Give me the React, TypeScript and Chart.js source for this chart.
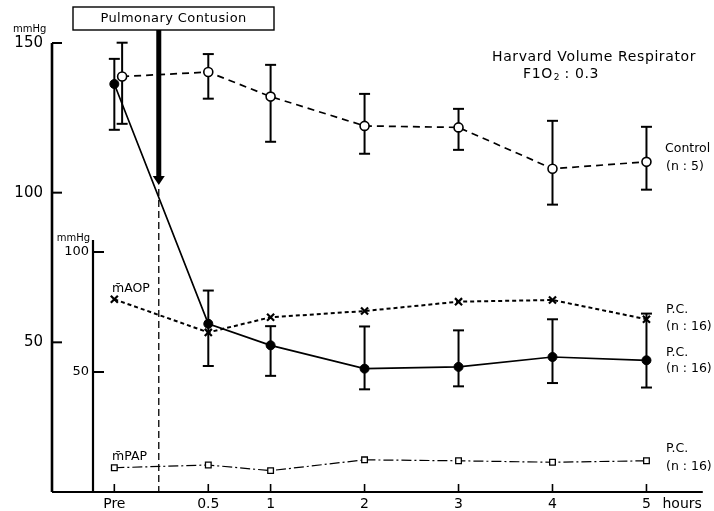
import React, { useEffect, useRef } from 'react';
import { Chart, registerables } from 'chart.js';

Chart.register(...registerables);

// ---- data ----
const timeLabels = ['Pre', '0.5', '1', '2', '3', '4', '5'];
const timeValues = [-0.663, 0.337, 1, 2, 3, 4, 5];
const controlTimes = [-0.58, 0.337, 1, 2, 3, 4, 5];
const contusionTime = -0.19;

const controlMean = [138.8, 140.3, 132.1, 122.3, 121.8, 108, 110.3];
const controlHigh = [150.1, 146.3, 142.7, 133, 128, 124, 122];
const controlLow = [123, 131.4, 117, 113, 114.3, 96, 101];

const pcMean = [136.3, 56.2, 49, 41.2, 41.8, 45.1, 44];
const pcHigh = [144.7, 67.3, 55.4, 55.3, 54, 57.7, 59.6];
const pcLow = [121, 42.1, 38.8, 34.3, 35.3, 36.4, 34.9];

const mAOP = [80.3, 66.5, 72.8, 75.4, 79.3, 80, 72];
const mPAP = [10.1, 11.25, 8.9, 13.4, 13, 12.4, 13];

const outerTicks = [150, 100, 50];
const innerTicks = [100, 50];
const innerAxisTop = 105;

const FONT = '"DejaVu Sans", "Liberation Sans", sans-serif';

function pts(xs: number[], ys: number[]) {
  return ys.map((y, i) => ({ x: xs[i], y }));
}

export default function App() {
  const ref = useRef<HTMLCanvasElement>(null);

  useEffect(() => {
    document.body.style.margin = '0';
    const canvas = ref.current!;

    const errorSets = [
      { ds: 0, high: controlHigh, low: controlLow },
      { ds: 1, high: pcHigh, low: pcLow },
    ];

    const figurePlugin = {
      id: 'figurePlugin',
      beforeDatasetsDraw(chart: any) {
        const c: CanvasRenderingContext2D = chart.ctx;
        const xs = chart.scales.x;
        const yo = chart.scales.yOuter;
        const yi = chart.scales.yInner;
        const area = chart.chartArea;
        const y0 = yo.getPixelForValue(0);
        const seg = (x1: number, y1: number, x2: number, y2: number) => {
          c.beginPath();
          c.moveTo(x1, y1);
          c.lineTo(x2, y2);
          c.stroke();
        };
        c.save();
        c.strokeStyle = '#000';
        c.fillStyle = '#000';
        c.setLineDash([]);

        // x axis
        c.lineWidth = 2.2;
        seg(area.left, y0, area.right - 4, y0);
        c.lineWidth = 1.6;
        timeValues.forEach((t) => {
          const px = xs.getPixelForValue(t);
          seg(px, y0, px, y0 - 8);
        });
        c.font = `14px ${FONT}`;
        c.textAlign = 'center';
        c.textBaseline = 'middle';
        timeLabels.forEach((lab, i) => {
          c.fillText(lab, xs.getPixelForValue(timeValues[i]), y0 + 12);
        });
        c.textAlign = 'left';
        c.fillText('hours', xs.getPixelForValue(5) + 16, y0 + 12);

        // outer y axis
        const ox = area.left;
        c.lineWidth = 2.6;
        seg(ox, yo.getPixelForValue(150), ox, y0);
        c.lineWidth = 2;
        c.font = `15px ${FONT}`;
        c.textAlign = 'right';
        outerTicks.forEach((v) => {
          const py = yo.getPixelForValue(v);
          seg(ox, py, ox + 10, py);
          c.fillText(String(v), ox - 9, py);
        });
        c.font = `10px ${FONT}`;
        c.textAlign = 'left';
        c.fillText('mmHg', ox - 39, yo.getPixelForValue(150) - 14);

        // inner y axis
        const ix = area.left + 41;
        c.lineWidth = 2.2;
        seg(ix, yi.getPixelForValue(innerAxisTop), ix, y0);
        c.lineWidth = 2;
        c.font = `13px ${FONT}`;
        c.textAlign = 'right';
        innerTicks.forEach((v) => {
          const py = yi.getPixelForValue(v);
          seg(ix, py, ix + 11, py);
          c.fillText(String(v), ix - 4, py);
        });
        c.font = `10px ${FONT}`;
        c.fillText('mmHg', ix - 3, yi.getPixelForValue(100) - 14);

        // contusion arrow + dashed line
        const cx = xs.getPixelForValue(contusionTime);
        c.lineWidth = 5;
        seg(cx, 30, cx, 177);
        c.beginPath();
        c.moveTo(cx - 6, 176);
        c.lineTo(cx + 6, 176);
        c.lineTo(cx, 185);
        c.closePath();
        c.fill();
        c.lineWidth = 1.3;
        c.setLineDash([7, 4]);
        seg(cx, 189, cx, y0);
        c.setLineDash([]);

        // box
        c.lineWidth = 1.4;
        c.fillStyle = '#fff';
        c.fillRect(73, 7, 201, 23);
        c.strokeRect(73, 7, 201, 23);
        c.fillStyle = '#000';
        c.font = `13px ${FONT}`;
        c.textAlign = 'center';
        (c as any).letterSpacing = '0.4px';
        c.fillText('Pulmonary Contusion', 173.5, 18.5);
        (c as any).letterSpacing = '0px';

        // error bars
        c.lineWidth = 2;
        errorSets.forEach((es) => {
          const meta = chart.getDatasetMeta(es.ds);
          meta.data.forEach((pt: any, i: number) => {
            const px = pt.x;
            const hy = yo.getPixelForValue(es.high[i]);
            const ly = yo.getPixelForValue(es.low[i]);
            seg(px, hy, px, ly);
            seg(px - 5.5, hy, px + 5.5, hy);
            seg(px - 5.5, ly, px + 5.5, ly);
          });
        });
        c.restore();
      },
      afterDraw(chart: any) {
        const c: CanvasRenderingContext2D = chart.ctx;
        c.save();
        c.fillStyle = '#000';
        c.textBaseline = 'middle';
        c.textAlign = 'left';
        c.font = `14px ${FONT}`;
        (c as any).letterSpacing = '0.6px';
        c.fillText('Harvard Volume Respirator', 492, 57);
        // FIO2
        let x = 523;
        c.fillText('F1O', x, 74);
        x += c.measureText('F1O').width;
        c.font = `9px ${FONT}`;
        (c as any).letterSpacing = '0px';
        c.fillText('2', x + 1, 78);
        x += c.measureText('2').width + 1;
        c.font = `14px ${FONT}`;
        (c as any).letterSpacing = '0.6px';
        c.fillText(' : 0.3', x, 74);
        (c as any).letterSpacing = '0px';

        c.font = `12.5px ${FONT}`;
        c.fillText('Control', 665, 149);
        c.fillText('(n : 5)', 666, 167);
        c.fillText('P.C.', 666, 310);
        c.fillText('(n : 16)', 666, 327);
        c.fillText('P.C.', 666, 353);
        c.fillText('(n : 16)', 666, 369);
        c.fillText('P.C.', 666, 449);
        c.fillText('(n : 16)', 666, 467);

        c.font = `12.5px ${FONT}`;
        c.fillText('m\u0304AOP', 112, 289);
        c.fillText('m\u0304PAP', 112, 457);
        c.restore();
      },
    };

    const chart = new Chart(canvas, {
      type: 'line',
      data: {
        datasets: [
          {
            label: 'Control',
            data: pts(controlTimes, controlMean),
            yAxisID: 'yOuter',
            borderColor: '#000',
            borderWidth: 1.7,
            borderDash: [7, 5],
            pointStyle: 'circle',
            pointRadius: 4.5,
            pointBorderWidth: 1.6,
            pointBackgroundColor: '#fff',
            pointBorderColor: '#000',
            tension: 0,
          },
          {
            label: 'P.C. PaO2',
            data: pts(timeValues, pcMean),
            yAxisID: 'yOuter',
            borderColor: '#000',
            borderWidth: 1.7,
            pointStyle: 'circle',
            pointRadius: 4.5,
            pointBorderWidth: 1,
            pointBackgroundColor: '#000',
            pointBorderColor: '#000',
            tension: 0,
          },
          {
            label: 'mAOP',
            data: pts(timeValues, mAOP),
            yAxisID: 'yInner',
            borderColor: '#000',
            borderWidth: 2,
            borderDash: [4, 3],
            pointStyle: 'crossRot',
            pointRadius: 5,
            pointBorderWidth: 2.2,
            pointBorderColor: '#000',
            tension: 0,
          },
          {
            label: 'mPAP',
            data: pts(timeValues, mPAP),
            yAxisID: 'yInner',
            borderColor: '#000',
            borderWidth: 1.2,
            borderDash: [10, 3, 2, 3],
            pointStyle: 'rect',
            pointRadius: 4,
            pointBorderWidth: 1.3,
            pointBackgroundColor: '#fff',
            pointBorderColor: '#000',
            tension: 0,
          },
        ],
      },
      options: {
        responsive: false,
        animation: false,
        events: [],
        layout: { padding: { left: 52, top: 43, right: 0, bottom: 19 } },
        plugins: { legend: { display: false }, tooltip: { enabled: false } },
        scales: {
          x: { type: 'linear', display: false, min: 1 - 221 / 95, max: 1 - 221 / 95 + 662 / 95 },
          yOuter: { type: 'linear', display: false, min: 0, max: 150 },
          yInner: { type: 'linear', display: false, min: 0, max: (449 / 2.4) },
        },
      },
      plugins: [figurePlugin],
    });
    return () => chart.destroy();
  }, []);

  return (
    <div style={{ width: 714, height: 511, background: '#fff' }}>
      <canvas ref={ref} width={714} height={511} />
    </div>
  );
}
